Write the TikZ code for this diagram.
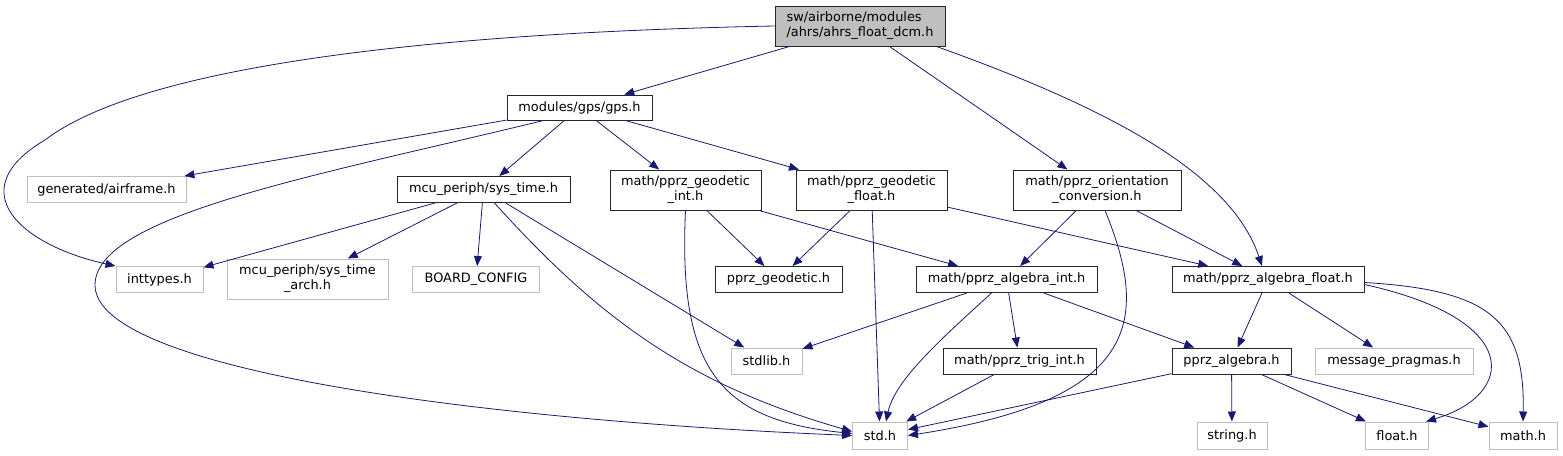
\documentclass[tikz,border=0pt]{standalone}
\usepackage{fontspec}
\setmainfont{DejaVu Sans}
\usetikzlibrary{arrows.meta}
\definecolor{edgeblue}{HTML}{191970}
\definecolor{lightgrey}{HTML}{BFBFBF}

\begin{document}
\begin{tikzpicture}[x=1pt,y=-1pt,font=\fontsize{12.9}{15}\selectfont,>={Triangle[length=10pt,width=8pt]},
 box/.style={draw=black!85,line width=1pt,inner sep=0pt,minimum height=26pt,align=center},
 sysbox/.style={box,draw=lightgrey}, rootbox/.style={box,fill=lightgrey,minimum height=40pt,align=left},
 dep/.style={->,draw=edgeblue,line width=0.8pt}]
\useasboundingbox (0,0) rectangle (1563,455);
\node[rootbox,minimum width=170pt] (root) at (860,26) {sw/airborne/modules\\/ahrs/ahrs\_float\_dcm.h};
\node[box,minimum width=145pt,minimum height=25pt] (gps) at (579.5,107.5) {modules/gps/gps.h};
\node[sysbox,minimum width=159pt] (airframe) at (106.5,189.5) {generated/airframe.h};\node[box,minimum width=173pt] (systime) at (483.5,189.5) {mcu\_periph/sys\_time.h};
\node[box,minimum width=151pt,minimum height=40pt] (geoint) at (685.5,190) {math/pprz\_geodetic\\\_int.h};\node[box,minimum width=151pt,minimum height=40pt] (geofloat) at (871.5,190) {math/pprz\_geodetic\\\_float.h};
\node[box,minimum width=168pt,minimum height=40pt] (orient) at (1097,190) {math/pprz\_orientation\\\_conversion.h};
\node[sysbox,minimum width=87pt] (inttypes) at (159.5,279.5) {inttypes.h};\node[sysbox,minimum width=161pt,minimum height=40pt] (sysarch) at (307.5,279) {mcu\_periph/sys\_time\\\_arch.h};
\node[sysbox,minimum width=127pt] (board) at (476,279.5) {BOARD\_CONFIG};\node[box,minimum width=127pt] (geodetic) at (778.5,279.5) {pprz\_geodetic.h};
\node[box,minimum width=181pt] (algint) at (1006.5,279.5) {math/pprz\_algebra\_int.h};\node[box,minimum width=192pt] (algfloat) at (1268,279.5) {math/pprz\_algebra\_float.h};
\node[sysbox,minimum width=71pt] (stdlib) at (766.5,361) {stdlib.h};\node[box,minimum width=153pt] (trigint) at (1019.5,361) {math/pprz\_trig\_int.h};
\node[box,minimum width=119pt] (algebra) at (1231.5,361) {pprz\_algebra.h};\node[sysbox,minimum width=158pt] (pragmas) at (1394,361) {message\_pragmas.h};
\node[sysbox,minimum width=55pt,minimum height=27pt] (std) at (880,435.5) {std.h};\node[sysbox,minimum width=70pt,minimum height=27pt] (string) at (1232,435.5) {string.h};
\node[sysbox,minimum width=63pt,minimum height=27pt] (float) at (1397,435.5) {float.h};\node[sysbox,minimum width=68pt,minimum height=27pt] (math) at (1523,435.5) {math.h};
\draw[dep] (root.west) .. controls (470,32) and (150,60) .. (45,140) .. controls (-40,190) and (20,245) .. (inttypes.north west);
\draw[dep] (root)--(gps);\draw[dep] (root)--(orient);
\draw[dep] ([xshift=-9pt]root.south east) .. controls (1100,105) and (1230,170) .. ([xshift=-6pt]algfloat.north);
\draw[dep] (gps)--(airframe);\draw[dep] (gps)--(systime);\draw[dep] (gps)--(geoint);\draw[dep] (gps)--(geofloat);
\draw[dep] ([xshift=-36pt]gps.south) .. controls (320,175) and (95,215) .. (95,285) .. controls (95,370) and (480,420) .. (std.west);
\draw[dep] (systime)--(inttypes);\draw[dep] (systime)--(sysarch);\draw[dep] (systime)--(board);\draw[dep] (systime)--(stdlib);
\draw[dep] ([xshift=11pt]systime.south) .. controls (600,320) and (690,385) .. ([yshift=4pt]std.west);
\draw[dep] (geoint.south) .. controls (678,370) and (720,420) .. ([yshift=2pt]std.west);
\draw[dep] (geoint)--(geodetic);\draw[dep] (geoint)--(algint);
\draw[dep] (geofloat)--(geodetic);\draw[dep] (geofloat)--(std);\draw[dep] (geofloat)--(algfloat);
\draw[dep] (orient)--(algint);\draw[dep] (orient)--(algfloat);
\draw[dep] ([xshift=8pt]orient.south) .. controls (1150,320) and (1140,400) .. (std.east);
\draw[dep] (algint)--(stdlib);\draw[dep] (algint)--(trigint);\draw[dep] (algint)--(algebra);
\draw[dep] ([xshift=-15pt]algint.south) .. controls (940,340) and (895,380) .. ([xshift=6pt]std.north);
\draw[dep] (algfloat)--(algebra);\draw[dep] (algfloat)--(pragmas);
\draw[dep] ([yshift=-5pt]algfloat.east) .. controls (1525,320) and (1515,395) .. ([xshift=-3pt]float.north east);
\draw[dep] ([yshift=-3pt]algfloat.east) .. controls (1490,290) and (1525,320) .. (math.north);
\draw[dep] (trigint)--(std);\draw[dep] (algebra)--(std);\draw[dep] (algebra)--(string);\draw[dep] (algebra)--(float);\draw[dep] (algebra)--(math);
\end{tikzpicture}
\end{document}
